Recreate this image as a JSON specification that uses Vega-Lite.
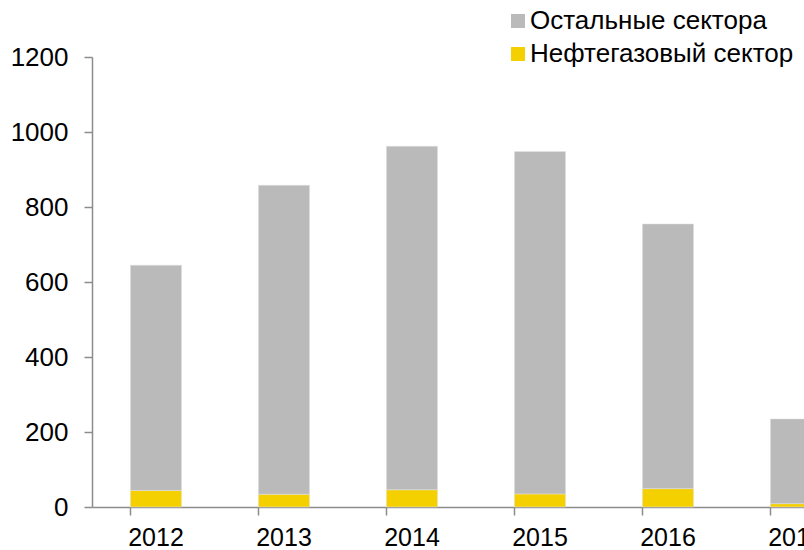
{
  "$schema": "https://vega.github.io/schema/vega-lite/v6.json",
  "width": 712,
  "height": 450,
  "autosize": {"type": "none"},
  "padding": {"left": 92, "top": 57, "right": 0, "bottom": 43},
  "background": "white",
  "config": {
    "view": {"stroke": null},
    "font": "Liberation Sans",
    "axis": {"labelFont": "Liberation Sans", "labelColor": "#000000", "domainColor": "#8c8c8c", "tickColor": "#8c8c8c", "domainWidth": 1.5, "tickWidth": 1.5, "tickSize": 8, "grid": false, "title": null}
  },
  "data": {
    "values": [
      {"year": "2012", "sector": "Нефтегазовый сектор", "value": 44},
      {"year": "2012", "sector": "Остальные сектора", "value": 601},
      {"year": "2013", "sector": "Нефтегазовый сектор", "value": 34},
      {"year": "2013", "sector": "Остальные сектора", "value": 824},
      {"year": "2014", "sector": "Нефтегазовый сектор", "value": 46},
      {"year": "2014", "sector": "Остальные сектора", "value": 916},
      {"year": "2015", "sector": "Нефтегазовый сектор", "value": 35},
      {"year": "2015", "sector": "Остальные сектора", "value": 913},
      {"year": "2016", "sector": "Нефтегазовый сектор", "value": 49},
      {"year": "2016", "sector": "Остальные сектора", "value": 706},
      {"year": "2017", "sector": "Нефтегазовый сектор", "value": 9},
      {"year": "2017", "sector": "Остальные сектора", "value": 226}
    ]
  },
  "mark": {"type": "bar", "stroke": "#e4e4e4", "strokeWidth": 0.5},
  "encoding": {
    "x": {
      "field": "year",
      "type": "ordinal",
      "scale": {"range": [0, 768], "paddingInner": 0.6, "paddingOuter": 0.3},
      "axis": {"labelAngle": 0, "labelFontSize": 25, "labelPadding": 10, "bandPosition": 0}
    },
    "y": {
      "field": "value",
      "type": "quantitative",
      "stack": "zero",
      "scale": {"domain": [0, 1200], "nice": false},
      "axis": {"values": [0, 200, 400, 600, 800, 1000, 1200], "format": "d", "labelFontSize": 26, "labelPadding": 16}
    },
    "color": {
      "field": "sector",
      "type": "nominal",
      "scale": {"domain": ["Остальные сектора", "Нефтегазовый сектор"], "range": ["#bababa", "#f5d000"]},
      "legend": {
        "title": null,
        "orient": "none",
        "legendX": 413,
        "legendY": -49,
        "padding": 0,
        "symbolType": "square",
        "symbolSize": 196,
        "symbolStrokeWidth": 0,
        "labelFontSize": 26,
        "labelFont": "Liberation Sans",
        "labelColor": "#000000",
        "labelOffset": -1,
        "rowPadding": 7,
        "labelLimit": 400
      }
    },
    "order": {"field": "sector", "sort": "ascending"}
  }
}
